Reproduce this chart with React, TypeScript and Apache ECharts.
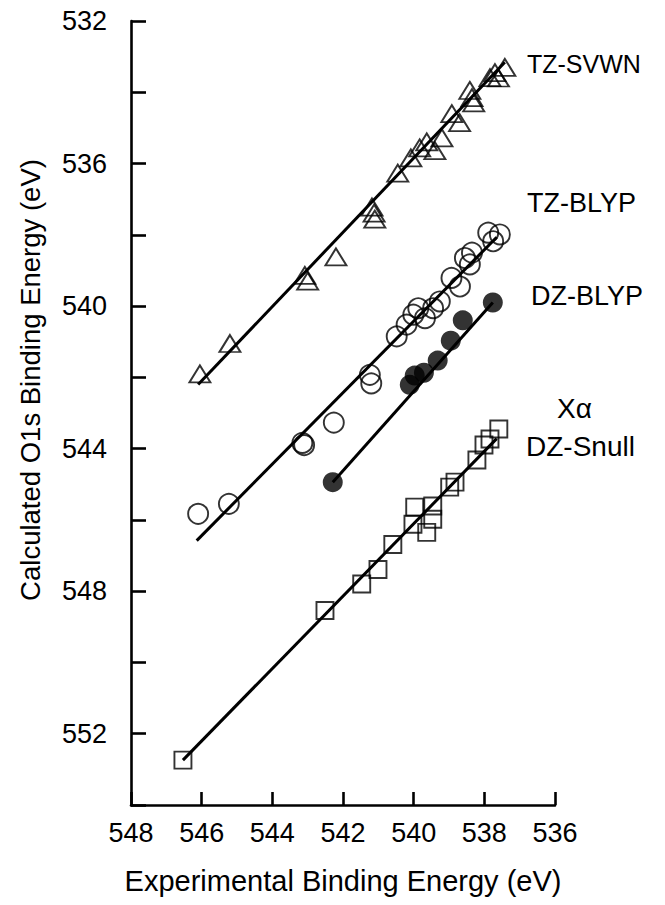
import React, { useEffect, useRef } from "react";
import * as echarts from "echarts";

// TZ-SVWN (open triangles): [experimental, calculated]
const tzSvwn: number[][] = [
  [546.05, 541.9], [545.2, 541.05], [543.08, 539.14], [543.0, 539.3], [542.2, 538.62],
  [541.18, 537.22], [541.12, 537.39], [541.1, 537.56], [540.45, 536.27], [540.08, 535.84],
  [539.83, 535.56], [539.63, 535.39], [539.4, 535.64], [539.2, 535.28], [538.92, 534.6],
  [538.7, 534.85], [538.41, 533.95], [538.35, 534.15], [538.3, 534.3], [537.84, 533.59],
  [537.7, 533.45], [537.6, 533.6], [537.42, 533.3],
];
const tzSvwnFit: number[][] = [[546.1, 542.2], [537.42, 533.16]];

// TZ-BLYP (open circles)
const tzBlyp: number[][] = [
  [546.1, 545.83], [545.23, 545.55], [543.15, 543.84], [543.1, 543.9], [542.26, 543.27],
  [541.24, 541.93], [541.2, 542.17], [540.48, 540.85], [540.2, 540.52], [540.01, 540.24],
  [539.87, 540.06], [539.68, 540.34], [539.45, 540.06], [539.26, 539.87], [538.93, 539.21],
  [538.69, 539.45], [538.55, 538.65], [538.41, 538.83], [538.35, 538.5], [537.89, 537.94],
  [537.75, 538.18], [537.56, 537.99],
];
const tzBlypFit: number[][] = [[546.14, 546.58], [537.65, 538.07]];

// DZ-BLYP (filled circles)
const dzBlyp: number[][] = [
  [542.29, 544.94], [540.11, 542.21], [539.97, 541.95], [539.71, 541.87], [539.32, 541.53],
  [538.95, 540.97], [538.61, 540.4], [537.76, 539.9],
];
const dzBlypFit: number[][] = [[542.29, 544.94], [537.76, 539.9]];

// Xα DZ-Snull (open squares)
const dzSnull: number[][] = [
  [546.53, 552.74], [542.51, 548.54], [541.47, 547.8], [541.01, 547.39], [540.59, 546.69],
  [540.02, 546.12], [539.97, 545.64], [539.63, 546.35], [539.46, 545.98], [539.46, 545.61],
  [538.98, 545.08], [538.83, 544.94], [538.21, 544.32], [538.01, 543.9], [537.84, 543.73],
  [537.59, 543.45],
];
const dzSnullFit: number[][] = [[546.53, 552.74], [537.65, 543.72]];

const seriesLabels = ["TZ-SVWN", "TZ-BLYP", "DZ-BLYP", "Xα", "DZ-Snull"];
const xTitle = "Experimental Binding Energy (eV)";
const yTitle = "Calculated O1s Binding Energy (eV)";

const FONT = "'Liberation Sans', Arial, sans-serif";

export default function App() {
  const ref = useRef<HTMLDivElement>(null);
  useEffect(() => {
    if (!ref.current) return;
    const chart = echarts.init(ref.current, null, { renderer: "svg" });
    const open = { color: "rgba(0,0,0,0)", borderColor: "#000", borderWidth: 1.9 };
    const fitLine = (data: number[][]) => ({
      type: "line",
      data,
      symbol: "none",
      lineStyle: { color: "#000", width: 3 },
      z: 1,
    });
    const labelText = (text: string, x: number, y: number, size = 28) => ({
      type: "text",
      x,
      y,
      style: { text, fill: "#000", font: `${size}px ${FONT}`, verticalAlign: "middle", align: "left" },
    });
    chart.setOption({
      animation: false,
      backgroundColor: "#fff",
      grid: { left: 131, top: 21, width: 424, height: 784, containLabel: false },
      xAxis: {
        type: "value",
        min: 536,
        max: 548,
        interval: 2,
        inverse: true,
        splitLine: { show: false },
        axisLine: { lineStyle: { color: "#000", width: 2.6 } },
        axisTick: { inside: true, length: 13, lineStyle: { color: "#000", width: 2.6 } },
        axisLabel: { color: "#000", fontSize: 27, fontFamily: FONT, margin: 14 },
      },
      yAxis: {
        type: "value",
        min: 532,
        max: 554,
        interval: 2,
        inverse: true,
        splitLine: { show: false },
        axisLine: { lineStyle: { color: "#000", width: 2.6 } },
        axisTick: { inside: true, length: 15, lineStyle: { color: "#000", width: 2.6 } },
        axisLabel: {
          color: "#000",
          fontSize: 27,
          fontFamily: FONT,
          margin: 24,
          formatter: (v: number) => (v % 4 === 0 && v < 554 ? String(v) : ""),
        },
      },
      series: [
        fitLine(tzSvwnFit),
        fitLine(tzBlypFit),
        fitLine(dzBlypFit),
        fitLine(dzSnullFit),
        { type: "scatter", data: tzSvwn, symbol: "triangle", symbolSize: [21, 17], itemStyle: open, z: 2 },
        { type: "scatter", data: tzBlyp, symbol: "circle", symbolSize: 20, itemStyle: open, z: 2 },
        { type: "scatter", data: dzBlyp, symbol: "circle", symbolSize: 20, itemStyle: { color: "#000" }, z: 2 },
        { type: "scatter", data: dzSnull, symbol: "rect", symbolSize: 17, itemStyle: open, z: 2 },
      ],
      graphic: [
        labelText(seriesLabels[0], 527, 64, 25),
        labelText(seriesLabels[1], 527, 203, 27),
        labelText(seriesLabels[2], 531, 296, 27),
        labelText(seriesLabels[3], 557, 408, 28),
        labelText(seriesLabels[4], 526, 446, 28),
        {
          type: "text",
          x: 343,
          y: 881,
          style: { text: xTitle, fill: "#000", font: `29px ${FONT}`, align: "center", verticalAlign: "middle" },
        },
        {
          type: "text",
          x: 30,
          y: 380,
          rotation: Math.PI / 2,
          style: { text: yTitle, fill: "#000", font: `27.5px ${FONT}`, align: "center", verticalAlign: "middle" },
        },
      ],
    });
    return () => chart.dispose();
  }, []);
  return (
    <div
      ref={ref}
      style={{ position: "absolute", left: 0, top: 0, width: 665, height: 905, background: "#fff" }}
    />
  );
}
